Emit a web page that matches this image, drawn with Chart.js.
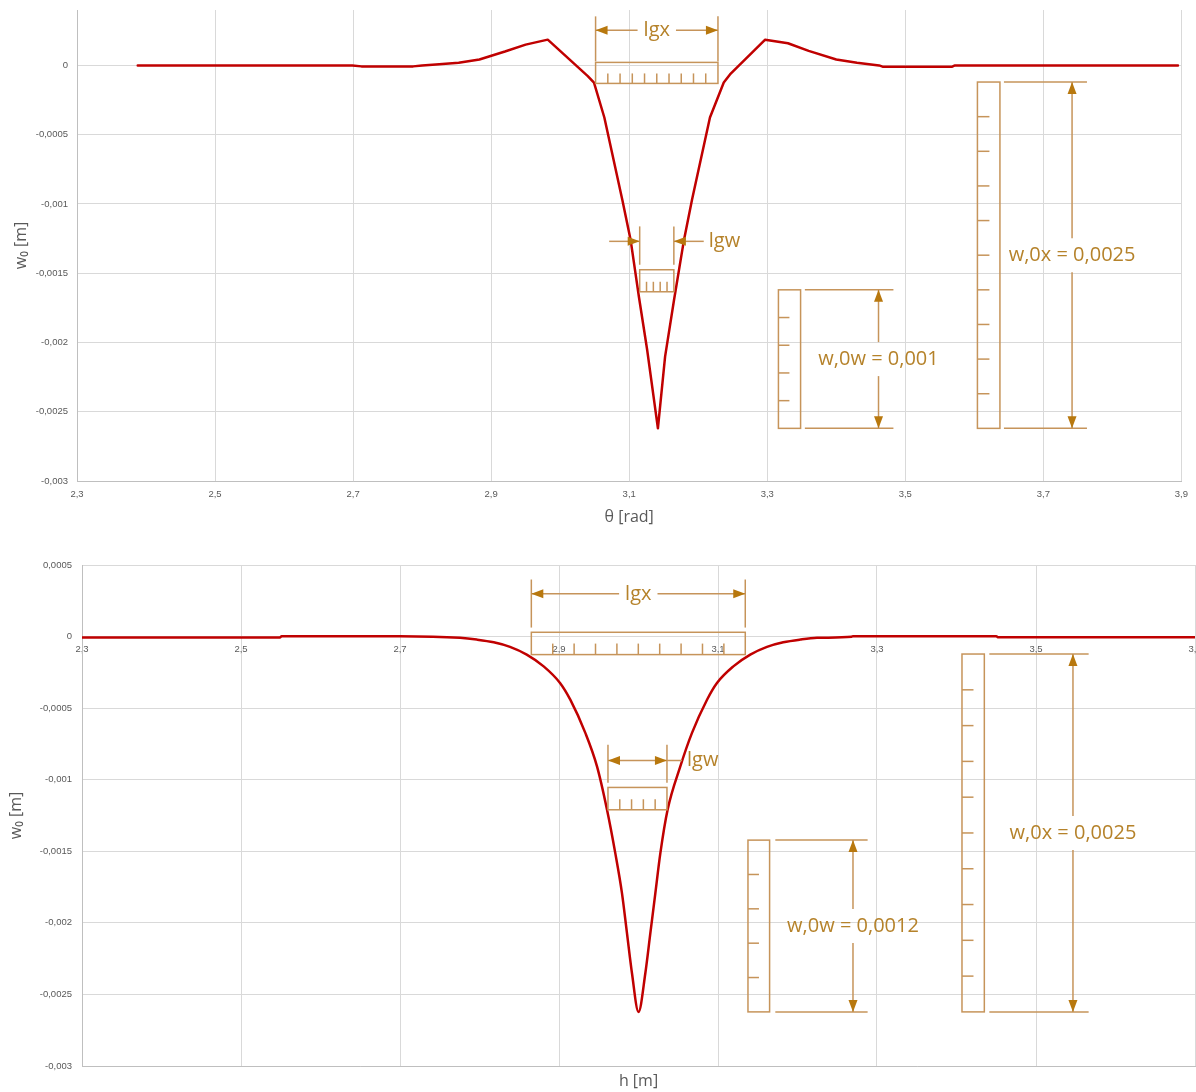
<!DOCTYPE html>
<html>
<head>
<meta charset="utf-8">
<script src="https://cdn.jsdelivr.net/npm/chart.js@4.4.1/dist/chart.umd.min.js"></script>
<style>
  html, body { margin: 0; padding: 0; background: #fff; overflow: hidden; width: 1196px; height: 1092px; }
  #wrap { position: relative; width: 1196px; height: 1092px; overflow: hidden; }
  #c1 { position: absolute; left: 0; top: 0; }
  #c2 { position: absolute; left: 0; top: 540px; }
</style>
</head>
<body>
<div id="wrap">
  <canvas id="c1" width="1196" height="540"></canvas>
  <canvas id="c2" width="1230" height="552"></canvas>
</div>
<script>
// Deflection w0 along the angle θ (upper chart)
const thetaRad = [2.388, 2.699, 2.712, 2.787, 2.800, 2.820, 2.853, 2.883, 2.920, 2.950, 2.982,
                  3.040, 3.049, 3.064, 3.090, 3.102, 3.114, 3.126, 3.1416,
                  3.152, 3.165, 3.179, 3.191, 3.217, 3.237, 3.246, 3.297,
                  3.330, 3.360, 3.400, 3.430, 3.462, 3.467, 3.568, 3.572, 3.895];
const wTheta = [0, 0, -0.000007, -0.000007, 0, 0.000007, 0.000019, 0.000043, 0.000100, 0.000150, 0.000186,
                -0.000077, -0.000125, -0.000376, -0.000969, -0.001258, -0.001668, -0.002053, -0.002620,
                -0.002102, -0.001692, -0.001270, -0.000969, -0.000376, -0.000123, -0.000065, 0.000186,
                0.000160, 0.000105, 0.000043, 0.000019, 0, -0.000009, -0.000009, 0, 0];

// Deflection w0 along the height h (lower chart)
const hM = [2.300, 2.549, 2.551, 2.700, 2.7755, 2.7965, 2.8179, 2.8384, 2.8594, 2.8807, 2.9013,
            2.9142, 2.9331, 2.9478, 2.9604, 2.9708, 2.9792, 2.9855, 2.9918, 3.0000,
            3.0086, 3.0149, 3.0212, 3.0275, 3.0366, 3.0526, 3.0673, 3.0862,
            3.0987, 3.1193, 3.1406, 3.1616, 3.1821, 3.2035, 3.2245, 3.2680, 3.2700, 3.4500, 3.4520, 3.7000];
const wH = [-0.000006, -0.000006, 0.000002, 0.000002, -0.000009, -0.000021, -0.000040, -0.000072, -0.000126, -0.000208, -0.000324,
            -0.000441, -0.000673, -0.000907, -0.001210, -0.001513, -0.001792, -0.002072, -0.002352, -0.002622,
            -0.002352, -0.002072, -0.001792, -0.001513, -0.001210, -0.000907, -0.000673, -0.000441,
            -0.000324, -0.000208, -0.000126, -0.000072, -0.000040, -0.000021, -0.000009, -0.000001, 0.000003, 0.000003, -0.000005, -0.000005];

// Axis ticks
const thetaTicks = [2.3, 2.5, 2.7, 2.9, 3.1, 3.3, 3.5, 3.7, 3.9];
const hTicks = [2.3, 2.5, 2.7, 2.9, 3.1, 3.3, 3.5, 3.7];
const wTicksTheta = [0, -0.0005, -0.001, -0.0015, -0.002, -0.0025, -0.003];
const wTicksH = [0.0005, 0, -0.0005, -0.001, -0.0015, -0.002, -0.0025, -0.003];

// Dimensioned depths of the dent
const depthW0wTheta = 0.001;
const depthW0xTheta = 0.0025;
const depthW0wH = 0.0012;
const depthW0xH = 0.0025;

const fmt = v => String(Math.round(v * 1e7) / 1e7).replace('.', ',');

Chart.defaults.font.family = "'Liberation Sans', Arial, sans-serif";
Chart.defaults.color = '#595959';

const GRID = '#d9d9d9', AXIS = '#bfbfbf', CURVE = '#c00000';
const INK = '#c6945a', ARROW = '#b8780e', TEXT = '#b5822a';
const LABEL_FONT = "20px 'Open Sans', 'Liberation Sans', sans-serif";
const tickFont = { size: 9.5 };
const titleFont = { family: "'Open Sans', 'Liberation Sans', sans-serif", size: 16 };

// ---------- dimension drawing helpers ----------
function seg(ctx, x1, y1, x2, y2) {
  ctx.beginPath(); ctx.moveTo(x1, y1); ctx.lineTo(x2, y2); ctx.stroke();
}
function head(ctx, x, y, dir) {
  const L = 12, W = 4.5;
  ctx.beginPath();
  ctx.moveTo(x, y);
  if (dir === 'left') { ctx.lineTo(x + L, y - W); ctx.lineTo(x + L, y + W); }
  else if (dir === 'right') { ctx.lineTo(x - L, y - W); ctx.lineTo(x - L, y + W); }
  else if (dir === 'up') { ctx.lineTo(x - W, y + L); ctx.lineTo(x + W, y + L); }
  else { ctx.lineTo(x - W, y - L); ctx.lineTo(x + W, y - L); }
  ctx.closePath();
  ctx.fillStyle = ARROW;
  ctx.fill();
}
function label(ctx, text, x, y, align) {
  ctx.fillStyle = TEXT;
  ctx.textAlign = align;
  ctx.textBaseline = 'middle';
  ctx.fillText(text, x, y);
}

const draw = {
  ruler(ctx, it, px, py) {
    const x1 = px(it.x1), x2 = px(it.x2), y1 = py(it.y1), y2 = py(it.y2);
    ctx.strokeRect(x1, y1, x2 - x1, y2 - y1);
    for (let k = 1; k <= it.n; k++) {
      if (it.dir === 'h') {
        const x = x1 + (x2 - x1) * k / (it.n + 1);
        seg(ctx, x, y2, x, y2 - it.len);
      } else {
        const y = y1 + (y2 - y1) * k / (it.n + 1);
        seg(ctx, x1, y, x1 + it.len, y);
      }
    }
  },
  spanOut(ctx, it, px, py) {
    const x1 = px(it.x1), x2 = px(it.x2), yt = py(it.yExtTop), yb = py(it.yExtBot), ya = py(it.yA);
    seg(ctx, x1, yt, x1, yb); seg(ctx, x2, yt, x2, yb);
    const xc = (x1 + x2) / 2, half = ctx.measureText(it.label).width / 2 + 6;
    seg(ctx, x1, ya, xc - half, ya); seg(ctx, xc + half, ya, x2, ya);
    head(ctx, x1, ya, 'left'); head(ctx, x2, ya, 'right');
    label(ctx, it.label, xc, ya, 'center');
  },
  spanIn(ctx, it, px, py) {
    const x1 = px(it.x1), x2 = px(it.x2), yt = py(it.yExtTop), yb = py(it.yExtBot), ya = py(it.yA);
    const xo1 = px(it.xo1), xo2 = px(it.xo2);
    seg(ctx, x1, yt, x1, yb); seg(ctx, x2, yt, x2, yb);
    seg(ctx, xo1, ya, x1, ya); seg(ctx, x2, ya, xo2, ya);
    head(ctx, x1, ya, 'right'); head(ctx, x2, ya, 'left');
    label(ctx, it.label, xo2 + 5, ya, 'left');
  },
  spanTail(ctx, it, px, py) {
    const x1 = px(it.x1), x2 = px(it.x2), yt = py(it.yExtTop), yb = py(it.yExtBot), ya = py(it.yA);
    const xt = px(it.xt);
    seg(ctx, x1, yt, x1, yb); seg(ctx, x2, yt, x2, yb);
    seg(ctx, x1, ya, xt, ya);
    head(ctx, x1, ya, 'left'); head(ctx, x2, ya, 'right');
    label(ctx, it.label, xt + 5, ya, 'left');
  },
  height(ctx, it, px, py) {
    const xa = px(it.xa), xb = px(it.xb), xr = px(it.xArr), yt = py(it.yTop), yb = py(it.yBot);
    seg(ctx, xa, yt, xb, yt); seg(ctx, xa, yb, xb, yb);
    const yc = (yt + yb) / 2, gap = 17;
    seg(ctx, xr, yt, xr, yc - gap); seg(ctx, xr, yc + gap, xr, yb);
    head(ctx, xr, yt, 'up'); head(ctx, xr, yb, 'down');
    label(ctx, it.label, xr, yc, 'center');
  }
};

function dimensionPlugin(items) {
  return {
    id: 'dimensions',
    afterDatasetsDraw(chart) {
      const ctx = chart.ctx, X = chart.scales.x, Y = chart.scales.y;
      const px = v => X.getPixelForValue(v), py = v => Y.getPixelForValue(v);
      ctx.save();
      ctx.lineWidth = 1.5;
      ctx.strokeStyle = INK;
      ctx.font = LABEL_FONT;
      items.forEach(it => draw[it.type](ctx, it, px, py));
      ctx.restore();
    }
  };
}

// ---------- annotation layout (data coordinates) ----------
const troughTheta = Math.min(...wTheta);
const troughH = Math.min(...wH);

const dimsTheta = [
  { type: 'spanOut', x1: 3.0513, x2: 3.2286, yExtTop: 0.000354, yExtBot: 0.000029, yA: 0.000253, label: 'lgx' },
  { type: 'ruler', dir: 'h', x1: 3.0513, x2: 3.2286, y1: 0.0000217, y2: -0.000130, n: 9, len: 10 },
  { type: 'spanIn', x1: 3.1152, x2: 3.1647, yExtTop: -0.001162, yExtBot: -0.001439, yA: -0.001270, xo1: 3.071, xo2: 3.208, label: 'lgw' },
  { type: 'ruler', dir: 'h', x1: 3.1152, x2: 3.1647, y1: -0.001475, y2: -0.001634, n: 4, len: 10 },
  { type: 'ruler', dir: 'v', x1: 3.3162, x2: 3.3483, y1: troughTheta + depthW0wTheta, y2: troughTheta, n: 4, len: 11 },
  { type: 'height', xa: 3.3545, xb: 3.4828, xArr: 3.4612, yTop: troughTheta + depthW0wTheta, yBot: troughTheta, label: 'w,0w = ' + fmt(depthW0wTheta) },
  { type: 'ruler', dir: 'v', x1: 3.6045, x2: 3.6371, y1: troughTheta + depthW0xTheta, y2: troughTheta, n: 9, len: 12 },
  { type: 'height', xa: 3.6429, xb: 3.7632, xArr: 3.7416, yTop: troughTheta + depthW0xTheta, yBot: troughTheta, label: 'w,0x = ' + fmt(depthW0xTheta) }
];

const dimsH = [
  { type: 'spanOut', x1: 2.8652, x2: 3.1343, yExtTop: 0.0003986, yExtBot: 0.0000629, yA: 0.0002986, label: 'lgx' },
  { type: 'ruler', dir: 'h', x1: 2.8652, x2: 3.1343, y1: 0.000030, y2: -0.0001259, n: 9, len: 11 },
  { type: 'spanTail', x1: 2.9616, x2: 3.0358, yExtTop: -0.000755, yExtBot: -0.001021, yA: -0.000865, xt: 3.0547, label: 'lgw' },
  { type: 'ruler', dir: 'h', x1: 2.9616, x2: 3.0358, y1: -0.001054, y2: -0.001210, n: 4, len: 10.5 },
  { type: 'ruler', dir: 'v', x1: 3.1377, x2: 3.1649, y1: troughH + depthW0wH, y2: troughH, n: 4, len: 11 },
  { type: 'height', xa: 3.1721, xb: 3.2882, xArr: 3.2698, yTop: troughH + depthW0wH, yBot: troughH, label: 'w,0w = ' + fmt(depthW0wH) },
  { type: 'ruler', dir: 'v', x1: 3.4069, x2: 3.4350, y1: troughH + depthW0xH, y2: troughH, n: 9, len: 11.5 },
  { type: 'height', xa: 3.4413, xb: 3.5662, xArr: 3.5465, yTop: troughH + depthW0xH, yBot: troughH, label: 'w,0x = ' + fmt(depthW0xH) }
];

// ---------- charts ----------
const setTicks = values => scale => {
  scale.ticks = values.slice().sort((a, b) => a - b).map(value => ({ value }));
};
// fixed axis box sizes; edge label padding is not needed here
const fixWidth = w => s => { s.width = w; s.paddingTop = 0; s.paddingBottom = 0; };
const fixHeight = h => s => { s.height = h; };

function series(xs, ys, tension) {
  return {
    data: xs.map((x, i) => ({ x, y: ys[i] })),
    showLine: true,
    borderColor: CURVE,
    borderWidth: 2.5,
    borderJoinStyle: 'round',
    borderCapStyle: 'round',
    pointRadius: 0,
    tension: tension,
    cubicInterpolationMode: tension ? 'monotone' : 'default',
    fill: false
  };
}

new Chart(document.getElementById('c1'), {
  type: 'scatter',
  data: { datasets: [series(thetaRad, wTheta, 0)] },
  options: {
    responsive: false,
    animation: false,
    events: [],
    layout: { padding: { top: 10, right: 10, left: 0, bottom: 0 } },
    plugins: { legend: { display: false }, tooltip: { enabled: false } },
    scales: {
      x: {
        type: 'linear', min: 2.3, max: 3.9,
        afterBuildTicks: setTicks(thetaTicks),
        afterFit: fixHeight(59),
        grid: { color: GRID, drawTicks: false },
        border: { color: AXIS },
        ticks: { padding: 8, font: tickFont, maxRotation: 0, autoSkip: false, callback: v => fmt(v) },
        title: { display: true, text: 'θ [rad]', font: titleFont, padding: { top: 0, bottom: 13 } }
      },
      y: {
        type: 'linear', min: -0.003, max: 0.0004,
        afterBuildTicks: setTicks(wTicksTheta),
        afterFit: fixWidth(77),
        grid: { color: GRID, drawTicks: false },
        border: { color: AXIS },
        ticks: { padding: 9, font: tickFont, autoSkip: false, callback: v => fmt(v) },
        title: { display: true, text: 'w₀ [m]', font: titleFont, padding: { top: 12, bottom: 0 } }
      }
    }
  },
  plugins: [dimensionPlugin(dimsTheta)]
});

new Chart(document.getElementById('c2'), {
  type: 'scatter',
  data: { datasets: [series(hM, wH, 0.4)] },
  options: {
    responsive: false,
    animation: false,
    events: [],
    layout: { padding: { top: 25, right: 35, left: 0, bottom: 0 } },
    plugins: { legend: { display: false }, tooltip: { enabled: false } },
    scales: {
      x: {
        type: 'linear', min: 2.3, max: 3.7,
        afterBuildTicks: setTicks(hTicks),
        afterFit: fixHeight(26),
        grid: { color: GRID, drawTicks: false },
        border: { color: AXIS },
        ticks: { display: false },
        title: { display: true, text: 'h [m]', font: titleFont, padding: { top: 0, bottom: 1.4 } }
      },
      x2: {
        axis: 'x', type: 'linear', min: 2.3, max: 3.7,
        position: { y: 0 },
        afterBuildTicks: setTicks(hTicks),
        grid: { display: false, drawTicks: false },
        border: { display: false },
        ticks: { padding: 7, font: tickFont, maxRotation: 0, autoSkip: false, callback: v => fmt(v) }
      },
      y: {
        type: 'linear', min: -0.003, max: 0.0005,
        afterBuildTicks: setTicks(wTicksH),
        afterFit: fixWidth(82),
        grid: { color: GRID, drawTicks: false },
        border: { color: AXIS },
        ticks: { padding: 10, font: tickFont, autoSkip: false, callback: v => fmt(v) },
        title: { display: true, text: 'w₀ [m]', font: titleFont, padding: { top: 6.4, bottom: 0 } }
      }
    }
  },
  plugins: [dimensionPlugin(dimsH)]
});
</script>
</body>
</html>
